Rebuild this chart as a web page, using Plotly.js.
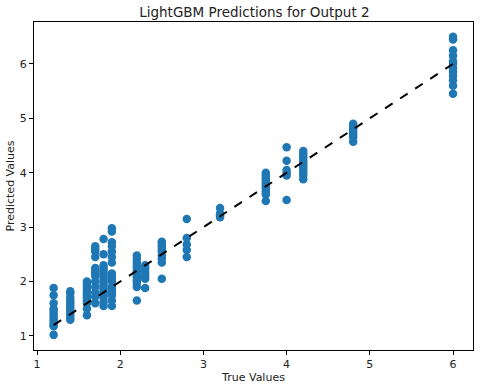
<!DOCTYPE html>
<html>
<head>
<meta charset="utf-8">
<script src="https://cdn.plot.ly/plotly-3.0.1.min.js"></script>
<style>
  html, body { margin: 0; padding: 0; background: #fff; }
  #chart { width: 480px; height: 387px; }
</style>
</head>
<body>
<div id="chart"></div>
<script>
// True value of each column and the predicted values stacked on it
const trueLevels = [1.2, 1.4, 1.6, 1.7, 1.8, 1.9, 2.2, 2.3, 2.5, 2.8, 3.2, 3.75, 4.0, 4.2, 4.8, 6.0];
const predictedByLevel = [
  [1.02, 1.18, 1.2, 1.25, 1.3, 1.35, 1.4, 1.45, 1.5, 1.6, 1.75, 1.88],
  [1.3, 1.35, 1.4, 1.45, 1.5, 1.55, 1.6, 1.65, 1.7, 1.78, 1.82],
  [1.38, 1.5, 1.6, 1.65, 1.7, 1.75, 1.8, 1.85, 1.9, 1.95, 2.0],
  [1.6, 1.72, 1.8, 1.9, 2.0, 2.1, 2.15, 2.2, 2.25, 2.45, 2.55, 2.6, 2.65],
  [1.55, 1.62, 1.7, 1.75, 1.8, 1.85, 1.9, 1.95, 2.0, 2.05, 2.1, 2.15, 2.2, 2.25, 2.3, 2.5, 2.78],
  [1.55, 1.65, 1.75, 1.8, 1.85, 1.9, 2.0, 2.05, 2.1, 2.15, 2.35, 2.45, 2.55, 2.65, 2.72, 2.92, 2.98],
  [1.65, 1.9, 1.98, 2.02, 2.08, 2.12, 2.18, 2.22, 2.28, 2.35, 2.42, 2.48],
  [1.88, 2.05, 2.1, 2.15, 2.2, 2.25, 2.3],
  [2.05, 2.35, 2.42, 2.48, 2.55, 2.6, 2.65, 2.7, 2.73],
  [2.45, 2.58, 2.68, 2.8, 3.15],
  [3.18, 3.22, 3.25, 3.35],
  [3.48, 3.6, 3.65, 3.7, 3.75, 3.8, 3.85, 3.9, 3.95, 4.0],
  [3.5, 3.95, 4.0, 4.05, 4.22, 4.47],
  [3.88, 3.95, 4.0, 4.05, 4.1, 4.15, 4.2, 4.25, 4.3, 4.35, 4.4],
  [4.57, 4.65, 4.7, 4.75, 4.8, 4.85, 4.9],
  [5.45, 5.6, 5.7, 5.78, 5.85, 5.92, 6.0, 6.05, 6.15, 6.25, 6.45, 6.5]
];
const tickVals = [1, 2, 3, 4, 5, 6];

const xs = [];
const ys = [];
trueLevels.forEach((t, i) => {
  predictedByLevel[i].forEach(p => { xs.push(t); ys.push(p); });
});

const minTrue = Math.min(...trueLevels);
const maxTrue = Math.max(...trueLevels);

const scatter = {
  x: xs,
  y: ys,
  type: 'scatter',
  mode: 'markers',
  marker: { color: '#1f77b4', size: 8.5 },
  hoverinfo: 'skip',
  showlegend: false
};

// ideal fit line y = x
const ideal = {
  x: [minTrue, maxTrue],
  y: [minTrue, maxTrue],
  type: 'scatter',
  mode: 'lines',
  line: { color: 'black', width: 2, dash: 'dash' },
  hoverinfo: 'skip',
  showlegend: false
};

const axisStyle = {
  showline: true,
  mirror: true,
  linecolor: 'black',
  linewidth: 1,
  showgrid: false,
  zeroline: false,
  ticks: 'outside',
  ticklen: 4,
  tickcolor: 'black',
  tickvals: tickVals,
  tickfont: { size: 11, color: '#222' }
};

const layout = {
  width: 480,
  height: 387,
  paper_bgcolor: '#fff',
  plot_bgcolor: '#fff',
  font: { family: 'DejaVu Sans, sans-serif', color: '#222' },
  title: {
    text: 'LightGBM Predictions for Output 2',
    font: { size: 13.5, color: '#222' },
    x: 0.53, xanchor: 'center', y: 0.968, yanchor: 'middle'
  },
  xaxis: Object.assign({}, axisStyle, {
    range: [0.964, 6.24],
    title: { text: 'True Values', font: { size: 11 }, standoff: 2 }
  }),
  yaxis: Object.assign({}, axisStyle, {
    range: [0.742, 6.77],
    title: { text: 'Predicted Values', font: { size: 11 }, standoff: 2 }
  }),
  margin: { l: 34, r: 7, t: 22, b: 37 }
};

Plotly.newPlot('chart', [scatter, ideal], layout, { displayModeBar: false, staticPlot: true });
</script>
</body>
</html>
